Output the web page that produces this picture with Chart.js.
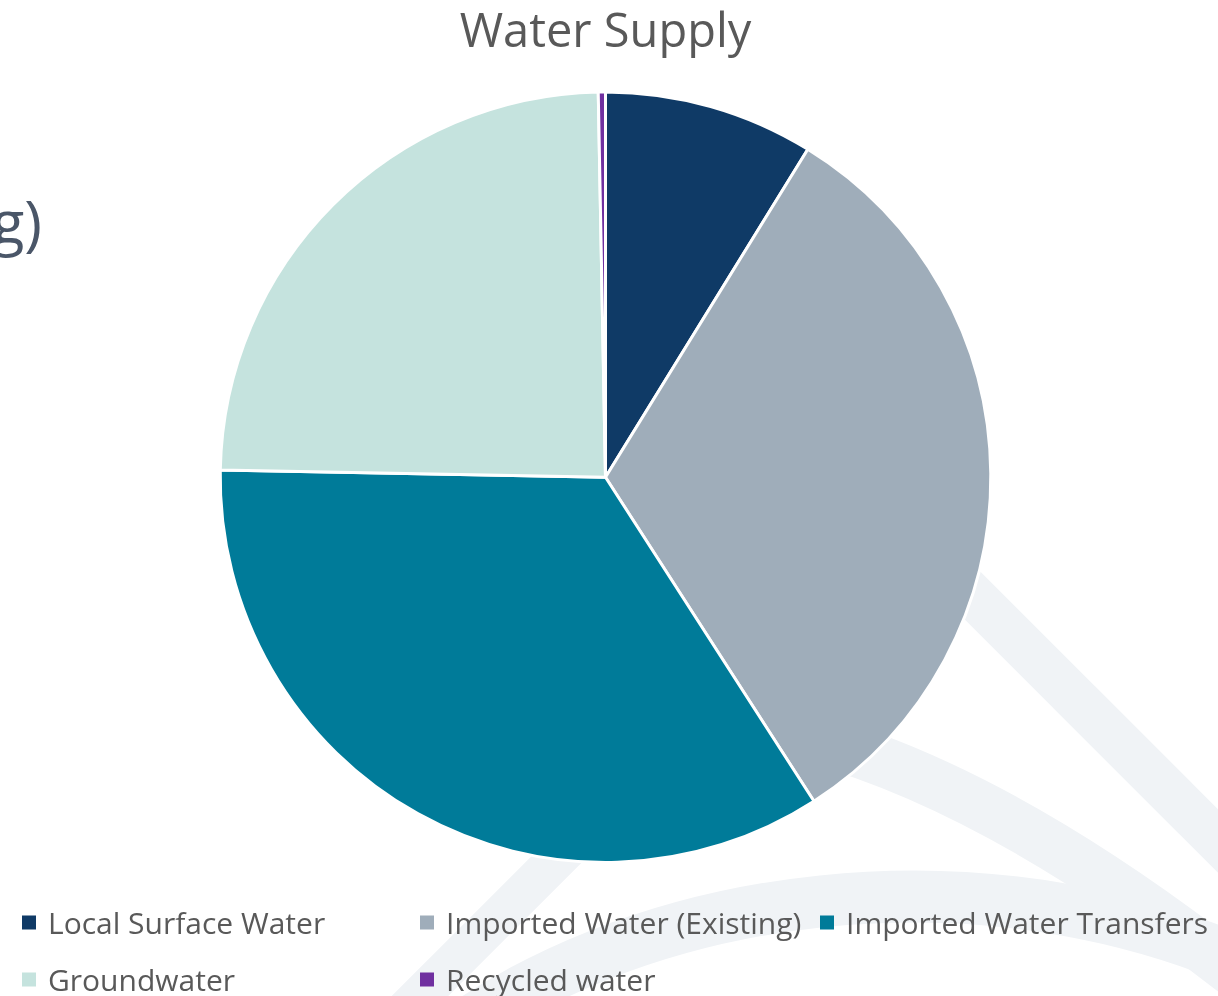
<!DOCTYPE html>
<html>
<head>
<meta charset="utf-8">
<title>Water Supply</title>
<script src="https://cdn.jsdelivr.net/npm/chart.js@4/dist/chart.umd.min.js"></script>
<style>
    html, body { margin: 0; padding: 0; background: #fff; overflow: hidden; }
    #stage { position: relative; width: 1218px; height: 996px; overflow: hidden; font-family: 'Open Sans', sans-serif; }
    #bg { position: absolute; left: 0; top: 0; }
    #slideTitle { position: absolute; right: 1176px; top: 181px; font-size: 60px; color: #4a5668; white-space: nowrap; line-height: 80px; }
    #chartBox { position: absolute; left: 0; top: 0; width: 1218px; height: 996px; }
    .legend-item { position: absolute; display: flex; align-items: center; font-size: 30px; color: #595959; white-space: nowrap; transform: translateY(-50%); }
    .legend-item i { display: inline-block; width: 14px; height: 14px; margin-right: 12px; }
</style>
</head>
<body>
<div id="stage">
    <svg id="bg" width="1218" height="996">
        <g fill="none" stroke="#f0f3f6">
            <line x1="760" y1="383" x2="1300" y2="923" stroke-width="45"/>
            <path d="M 800 735 Q 1000 786 1250 985" stroke-width="50"/>
            <path d="M 420 1060 C 620 890, 1000 830, 1300 990" stroke-width="52"/>
            <line x1="600" y1="816" x2="380" y2="1036" stroke-width="40"/>
        </g>
    </svg>
    <div id="slideTitle">(Existing)</div>
    <div id="chartBox"><canvas id="supplyChart"></canvas></div>
    <div id="legend"></div>
</div>
<script>
// Share of total water supply (%)
const sources = ['Local Surface Water', 'Imported Water (Existing)', 'Imported Water Transfers', 'Groundwater', 'Recycled water'];
const shares = [8.8, 32.1, 34.4, 24.4, 0.3];
const sliceColors = ['#0f3a66', '#9fadba', '#007b99', '#c5e3de', '#7030a0'];

// legend slots, Excel-style grid
const legendSlots = [[22, 922], [420, 922], [820, 922], [22, 979], [420, 979]];

const ctx = document.getElementById('supplyChart').getContext('2d');
const chart = new Chart(ctx, {
    type: 'pie',
    data: {
        labels: sources,
        datasets: [{
            label: 'Water Supply',
            data: shares,
            backgroundColor: sliceColors,
            borderColor: '#ffffff',
            borderWidth: 3
        }]
    },
    options: {
        responsive: true,
        maintainAspectRatio: false,
        animation: false,
        layout: { padding: { left: 0, right: 7, top: 0, bottom: 132 } },
        plugins: {
            legend: { display: false },
            title: {
                display: true,
                text: 'Water Supply',
                color: '#595959',
                font: { family: "'Open Sans', sans-serif", size: 47, weight: 'normal' },
                padding: { top: 5, bottom: 29 }
            },
            tooltip: {
                callbacks: {
                    label: (context) => `${context.label}: ${context.parsed}%`
                }
            }
        }
    }
});

// html legend built from the same arrays
const legendEl = document.getElementById('legend');
sources.forEach((name, i) => {
    const item = document.createElement('div');
    item.className = 'legend-item';
    item.style.left = legendSlots[i][0] + 'px';
    item.style.top = legendSlots[i][1] + 'px';
    item.innerHTML = `<i style="background:${sliceColors[i]}"></i><span>${name}</span>`;
    legendEl.appendChild(item);
});
</script>
</body>
</html>
